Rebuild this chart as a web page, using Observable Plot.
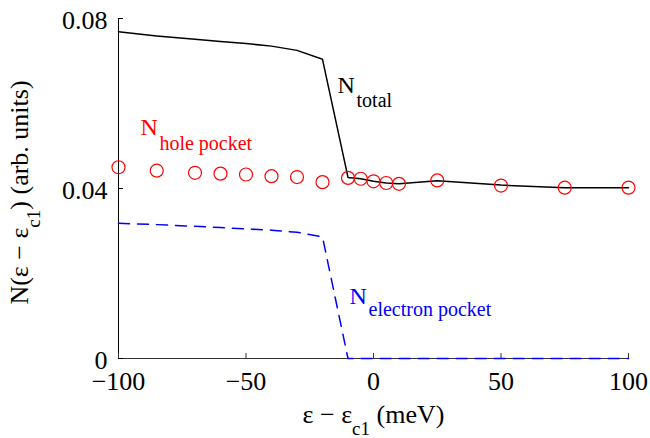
<!DOCTYPE html>
<html>
<head>
<meta charset="utf-8">
<script src="https://cdn.jsdelivr.net/npm/d3@7"></script>
<script src="https://cdn.jsdelivr.net/npm/@observablehq/plot@0.6"></script>
<style>
  html, body { margin: 0; padding: 0; background: white; }
  svg text, svg tspan { font-family: "Liberation Serif", "DejaVu Serif", "Times New Roman", serif !important; }
</style>
</head>
<body>
<script>
// ---- data ----
const energy = [-100, -85, -70, -60, -50, -40, -30, -20, -10, -5, 0, 5, 10, 25, 50, 75, 100];
const nTotal = [0.0769, 0.0759, 0.0751, 0.0746, 0.0741, 0.0735, 0.0725, 0.0704, 0.0426, 0.0423, 0.0417, 0.0413, 0.0411, 0.0418, 0.0408, 0.0402, 0.0402];
const nHole = [0.0450, 0.0442, 0.0437, 0.0435, 0.0433, 0.0429, 0.0427, 0.0415, 0.0425, 0.0423, 0.0417, 0.0413, 0.0411, 0.0419, 0.0407, 0.0402, 0.0402];
const nElectron = [0.0318, 0.0315, 0.0311, 0.0308, 0.0305, 0.0302, 0.0297, 0.0286, 0, 0, 0, 0, 0, 0, 0, 0, 0];

const xTicks = [-100, -50, 0, 50, 100];
const yTicks = [0, 0.04, 0.08];

const xLabel = "ε − ε_{c1} (meV)";
const yLabel = "N(ε − ε_{c1}) (arb. units)";

// annotation labels (anchor in data units)
const annMain = ["N", "N", "N"];
const annSub = ["total", "hole pocket", "electron pocket"];
const annX = [-14.1, -91.4, -9.4];
const annY = [0.0624, 0.0525, 0.0129];
const annColor = ["black", "red", "blue"];
const annSubDy = [14, 15, 12];

// ---- build ----
const rows = energy.map((e, i) => ({e, total: nTotal[i], hole: nHole[i], electron: nElectron[i]}));
const FONT = "Liberation Serif, DejaVu Serif, Times New Roman, serif";
const fmtX = d => d < 0 ? "\u2212" + Math.abs(d) : String(d);
const fmtY = d => d === 0 ? "0" : d.toFixed(2);

const annMarks = [];
annMain.forEach((m, i) => {
  const d = [{x: annX[i], y: annY[i]}];
  annMarks.push(Plot.text(d, {x: "x", y: "y", text: () => m, fill: annColor[i], fontSize: 24,
    fontFamily: FONT, textAnchor: "start", lineAnchor: "bottom"}));
  annMarks.push(Plot.text(d, {x: "x", y: "y", text: () => annSub[i], fill: annColor[i], fontSize: 20,
    fontFamily: FONT, textAnchor: "start", lineAnchor: "bottom", dx: 19, dy: annSubDy[i]}));
});

const svg = Plot.plot({
  width: 650,
  height: 438,
  marginLeft: 118,
  marginRight: 22,
  marginTop: 18,
  marginBottom: 80,
  style: {fontFamily: FONT, background: "white", color: "black", overflow: "visible"},
  x: {domain: [-100, 100]},
  y: {domain: [0, 0.08]},
  marks: [
    // axis lines
    Plot.ruleX([-100], {stroke: "black", strokeWidth: 1}),
    Plot.ruleY([0], {stroke: "#333", strokeWidth: 1}),
    // inward tick marks
    Plot.axisX({ticks: xTicks, tickSize: -5, fill: "none", stroke: "#333", label: null}),
    Plot.axisY({ticks: yTicks, tickSize: -5, fill: "none", stroke: "black", label: null}),
    // tick labels
    Plot.axisX({ticks: xTicks, tickSize: 0, tickPadding: 13, fontSize: 26, fontFamily: FONT, tickFormat: fmtX, label: null}),
    Plot.axisY({ticks: yTicks, tickSize: 0, tickPadding: 11, fontSize: 26, fontFamily: FONT, tickFormat: fmtY, label: null, dy: 2}),
    // data
    Plot.line(rows, {x: "e", y: "total", stroke: "black", strokeWidth: 1.5}),
    Plot.dot(rows, {x: "e", y: "hole", r: 6.5, stroke: "red", strokeWidth: 1.2, fill: "none"}),
    Plot.line(rows, {x: "e", y: "electron", stroke: "blue", strokeWidth: 1.5, strokeDasharray: "11,8"}),
    // annotations
    ...annMarks,
    // axis titles
    Plot.text([xLabel], {text: d => d, frameAnchor: "bottom", dy: 64, lineAnchor: "bottom",
      textAnchor: "middle", fontSize: 26, fontFamily: FONT, fill: "black"}),
    Plot.text([yLabel], {text: d => d, frameAnchor: "left", rotate: -90, dx: -91, dy: 4,
      lineAnchor: "bottom", textAnchor: "middle", fontSize: 26, fontFamily: FONT, fill: "black"})
  ]
});
svg.setAttribute("font-family", FONT);

// turn _{...} into subscript tspans
function applySubscripts(root, subSize, shift) {
  root.querySelectorAll("text").forEach(t => {
    const s = t.textContent;
    if (!s.includes("_{")) return;
    const parts = s.split(/_\{([^}]*)\}/);
    t.textContent = "";
    const ns = "http://www.w3.org/2000/svg";
    let lowered = false;
    parts.forEach((p, k) => {
      if (p === "") { return; }
      const ts = document.createElementNS(ns, "tspan");
      ts.textContent = p;
      if (k % 2 === 1) {
        ts.setAttribute("font-size", subSize);
        ts.setAttribute("dy", shift);
        lowered = true;
      } else if (lowered) {
        ts.setAttribute("dy", -shift);
        lowered = false;
      }
      t.appendChild(ts);
    });
  });
}
applySubscripts(svg, 19, 12);

document.body.appendChild(svg);
</script>
</body>
</html>
